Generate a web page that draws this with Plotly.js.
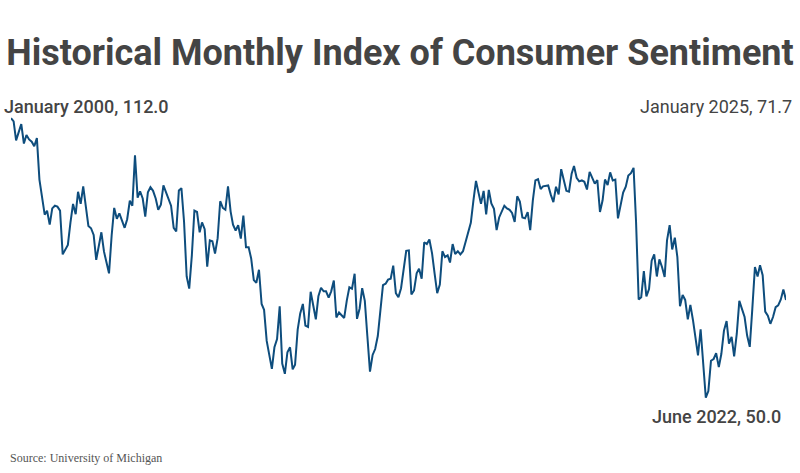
<!DOCTYPE html>
<html>
<head>
<meta charset="utf-8">
<script src="https://cdn.plot.ly/plotly-3.0.1.min.js"></script>
<style>
  html, body { margin: 0; padding: 0; background: #fff; }
  #chart { width: 800px; height: 473px; }
</style>
</head>
<body>
<div id="chart"></div>
<script>
// University of Michigan index of consumer sentiment, monthly, Jan 2000 - Jan 2025
const startYear = 2000;
const sentiment = [
  112.0, 111.3, 107.1, 109.2, 110.7, 106.4, 108.3, 107.3, 106.8, 105.8, 107.6, 98.4,  // 2000
  94.7, 90.6, 91.5, 88.4, 92.0, 92.6, 92.4, 91.5, 81.8, 82.7, 83.9, 88.8,            // 2001
  93.0, 90.7, 95.7, 93.0, 96.9, 92.4, 88.1, 87.6, 86.1, 80.6, 84.2, 86.7,            // 2002
  82.4, 79.9, 77.6, 86.0, 92.1, 89.7, 90.9, 89.3, 87.7, 89.6, 93.7, 92.6,            // 2003
  103.8, 94.4, 95.8, 94.2, 90.2, 95.6, 96.7, 95.9, 94.2, 91.7, 92.8, 97.1,           // 2004
  95.5, 94.1, 92.6, 87.7, 86.9, 96.0, 96.5, 89.1, 76.9, 74.2, 81.6, 91.5,            // 2005
  91.2, 86.7, 88.9, 87.4, 79.1, 84.9, 84.7, 82.0, 85.4, 93.6, 92.1, 91.7,            // 2006
  96.9, 91.3, 88.4, 87.1, 88.3, 85.3, 90.4, 83.4, 83.4, 80.9, 76.1, 75.5,            // 2007
  78.4, 70.8, 69.5, 62.6, 59.8, 56.4, 61.2, 63.0, 70.3, 57.6, 55.3, 60.1,            // 2008
  61.2, 56.3, 57.3, 65.1, 68.7, 70.8, 66.0, 65.7, 73.5, 70.6, 67.4, 72.5,            // 2009
  74.4, 73.6, 73.6, 72.2, 73.6, 76.0, 67.8, 68.9, 68.2, 67.7, 71.6, 74.5,            // 2010
  74.2, 77.5, 67.5, 69.8, 74.3, 71.5, 63.7, 55.8, 59.5, 60.8, 63.7, 69.9,            // 2011
  75.0, 75.3, 76.2, 76.4, 79.3, 73.2, 72.3, 74.3, 78.3, 82.6, 82.7, 72.9,            // 2012
  73.8, 77.6, 78.6, 76.4, 84.5, 84.1, 85.1, 82.1, 77.5, 73.2, 75.1, 82.5,            // 2013
  81.2, 81.6, 80.0, 84.1, 81.9, 82.5, 81.8, 82.5, 84.6, 86.9, 88.8, 93.6,            // 2014
  98.1, 95.4, 93.0, 95.9, 90.7, 96.1, 93.1, 91.9, 87.2, 90.0, 91.3, 92.6,            // 2015
  92.0, 91.7, 91.0, 89.0, 94.7, 93.5, 90.0, 89.8, 91.2, 87.2, 93.8, 98.2,            // 2016
  98.5, 96.3, 96.9, 97.0, 97.1, 95.0, 93.4, 96.8, 95.1, 100.7, 98.5, 95.9,           // 2017
  95.7, 99.7, 101.4, 98.8, 98.0, 98.2, 97.9, 96.2, 100.1, 98.6, 97.5, 98.3,          // 2018
  91.2, 93.8, 98.4, 97.2, 100.0, 98.2, 98.4, 89.8, 93.2, 95.5, 96.8, 99.3,           // 2019
  99.8, 101.0, 89.1, 71.8, 72.3, 78.1, 72.5, 74.1, 80.4, 81.8, 76.9, 80.7,           // 2020
  79.0, 76.8, 84.9, 88.3, 82.9, 85.5, 81.2, 70.3, 72.8, 71.7, 67.4, 70.6,            // 2021
  67.2, 62.8, 59.4, 65.2, 58.4, 50.0, 51.5, 58.2, 58.6, 59.9, 56.8, 59.7,            // 2022
  64.9, 67.0, 62.0, 63.5, 59.2, 64.2, 71.5, 69.4, 67.9, 63.8, 61.3, 69.7,            // 2023
  79.0, 76.9, 79.4, 77.2, 69.1, 68.2, 66.4, 67.9, 70.1, 70.5, 71.8, 74.0,            // 2024
  71.7                                                                                // 2025
];
const months = sentiment.map((v, i) => {
  const y = startYear + Math.floor(i / 12);
  const m = (i % 12) + 1;
  return y + '-' + String(m).padStart(2, '0') + '-01';
});

const inkColor = '#444444';
const lineColor = '#0e4d7d';

const data = [{
  x: months,
  y: sentiment,
  mode: 'lines',
  type: 'scatter',
  line: { color: lineColor, width: 2 },
  hoverinfo: 'x+y'
}];

const layout = {
  width: 800,
  height: 473,
  paper_bgcolor: '#ffffff',
  plot_bgcolor: '#ffffff',
  showlegend: false,
  margin: { l: 11, r: 14, t: 116, b: 73, pad: 0 },
  title: {
    text: '<b>Historical Monthly Index of Consumer Sentiment</b>',
    font: { family: 'Roboto', size: 36, color: inkColor },
    x: 0.5, xanchor: 'center',
    y: 0.89, yanchor: 'middle'
  },
  xaxis: {
    type: 'date',
    range: ['2000-01-01', '2025-01-01'],
    visible: false,
    fixedrange: true
  },
  yaxis: {
    range: [49.5, 112.5],
    visible: false,
    fixedrange: true
  },
  annotations: [
    {
      text: 'January 2000, 112.0',
      xref: 'paper', yref: 'paper', x: -0.011, y: 1.0, yshift: 10,
      xanchor: 'left', yanchor: 'middle', showarrow: false,
      font: { family: 'Roboto', size: 18, color: inkColor, weight: 500 }
    },
    {
      text: 'January 2025, 71.7',
      xref: 'paper', yref: 'paper', x: 1.0, y: 1.0, xshift: 8, yshift: 10,
      xanchor: 'right', yanchor: 'middle', showarrow: false,
      font: { family: 'Roboto', size: 18, color: inkColor }
    },
    {
      text: 'June 2022, 50.0',
      xref: 'paper', yref: 'paper', x: 1.0, y: 0.0, xshift: -3, yshift: -16,
      xanchor: 'right', yanchor: 'middle', showarrow: false,
      font: { family: 'Roboto', size: 18, color: inkColor, weight: 500 }
    },
    {
      text: 'Source: University of Michigan',
      xref: 'paper', yref: 'paper', x: -0.004, y: 0.0, yshift: -58,
      xanchor: 'left', yanchor: 'middle', showarrow: false,
      font: { family: 'Liberation Serif', size: 12, color: '#555555' }
    }
  ]
};

Plotly.newPlot('chart', data, layout, { staticPlot: true, displayModeBar: false });
</script>
</body>
</html>
